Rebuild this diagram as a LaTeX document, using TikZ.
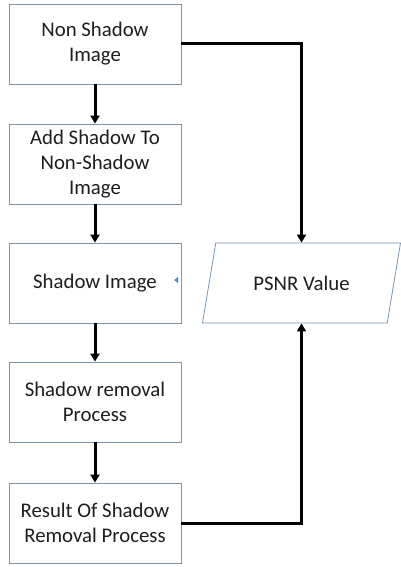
\documentclass[tikz,border=0pt]{standalone}
\usepackage{fontspec}
\setmainfont{Carlito}
\usetikzlibrary{shapes.geometric, arrows.meta, calc}
\definecolor{boxedge}{RGB}{120,150,180}
\definecolor{textgray}{RGB}{30,30,30}
\definecolor{markblue}{RGB}{80,140,205}

\tikzset{
  stepbox/.style={draw=boxedge, line width=0.8pt, fill=white, minimum width=172pt, minimum height=80pt,
    align=center, inner sep=0pt, text=textgray, font=\fontsize{20.8}{25}\selectfont},
  iobox/.style={trapezium, trapezium left angle=63, trapezium right angle=117, trapezium stretches=true,
    draw=boxedge, line width=0.8pt, minimum width=198pt, minimum height=80pt,
    align=center, inner sep=0pt, text=textgray, font=\fontsize{20.8}{25}\selectfont},
  flow/.style={line width=3pt, -{Triangle[width=9pt,length=8pt]}}
}

\begin{document}
\begin{tikzpicture}[x=1pt, y=-1pt]
        % Page frame
        \useasboundingbox (0,0) rectangle (401,567);
        % Left column of steps
        \node[stepbox] (nonshadow) at (95,44) {Non Shadow\\Image};
        \node[stepbox] (addshadow) at (95,164) {Add Shadow To\\Non-Shadow\\Image};
        \node[stepbox] (shadowimg) at (95,283) {Shadow Image};
        \node[stepbox] (removal) at (95,402) {Shadow removal\\Process};
        \node[stepbox] (result) at (95,523) {Result Of Shadow\\Removal Process};
        % Output
        \node[iobox] (psnr) at (301.5,283) {PSNR Value};
        % Connectors
        \draw[flow] (nonshadow) -- (addshadow);
        \draw[flow] (addshadow) -- (shadowimg);
        \draw[flow] (shadowimg) -- (removal);
        \draw[flow] (removal) -- (result);
        \draw[flow] (nonshadow.east) -| (psnr.north);
        \draw[flow] (result.east) -| (psnr.south);
        % Small mark
        \fill[markblue] (174,280) -- (178,277) -- (178,283) -- cycle;
    \end{tikzpicture}
\end{document}
